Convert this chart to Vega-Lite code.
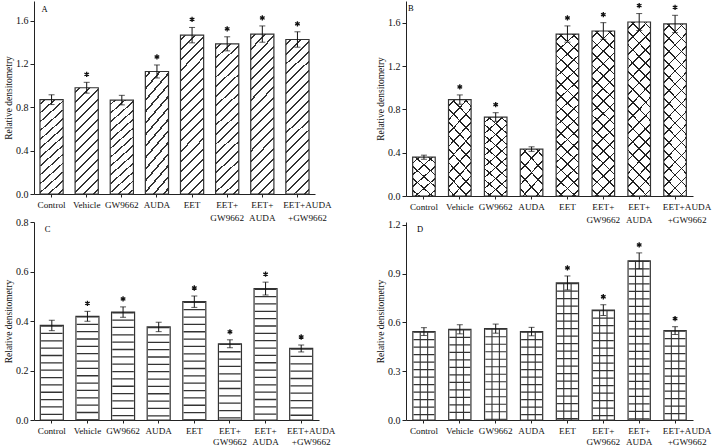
{
"$schema": "https://vega.github.io/schema/vega-lite/v6.json",
"padding": {"left": 3, "top": 0, "right": 5, "bottom": 2},
"background": "white",
"datasets": {
"A": [
{"cond":"Control","mean":0.87,"lo":0.825,"hi":0.915,"sig":false},
{"cond":"Vehicle","mean":0.98,"lo":0.93,"hi":1.03,"sig":true},
{"cond":"GW9662","mean":0.866,"lo":0.822,"hi":0.91,"sig":false},
{"cond":"AUDA","mean":1.13,"lo":1.07,"hi":1.19,"sig":true},
{"cond":"EET","mean":1.465,"lo":1.394,"hi":1.536,"sig":true},
{"cond":"EET+\nGW9662","mean":1.385,"lo":1.32,"hi":1.45,"sig":true},
{"cond":"EET+\nAUDA","mean":1.475,"lo":1.4,"hi":1.55,"sig":true},
{"cond":"EET+AUDA\n+GW9662","mean":1.425,"lo":1.354,"hi":1.496,"sig":true}
],
"B": [
{"cond":"Control","mean":0.358,"lo":0.339,"hi":0.377,"sig":false},
{"cond":"Vehicle","mean":0.89,"lo":0.847,"hi":0.933,"sig":true},
{"cond":"GW9662","mean":0.729,"lo":0.689,"hi":0.769,"sig":true},
{"cond":"AUDA","mean":0.433,"lo":0.412,"hi":0.454,"sig":false},
{"cond":"EET","mean":1.495,"lo":1.42,"hi":1.57,"sig":true},
{"cond":"EET+\nGW9662","mean":1.523,"lo":1.446,"hi":1.6,"sig":true},
{"cond":"EET+\nAUDA","mean":1.606,"lo":1.528,"hi":1.684,"sig":true},
{"cond":"EET+AUDA\n+GW9662","mean":1.588,"lo":1.508,"hi":1.668,"sig":true}
],
"C": [
{"cond":"Control","mean":0.382,"lo":0.361,"hi":0.403,"sig":false},
{"cond":"Vehicle","mean":0.419,"lo":0.399,"hi":0.439,"sig":true},
{"cond":"GW9662","mean":0.436,"lo":0.415,"hi":0.457,"sig":true},
{"cond":"AUDA","mean":0.376,"lo":0.357,"hi":0.395,"sig":false},
{"cond":"EET","mean":0.478,"lo":0.455,"hi":0.501,"sig":true},
{"cond":"EET+\nGW9662","mean":0.308,"lo":0.292,"hi":0.324,"sig":true},
{"cond":"EET+\nAUDA","mean":0.531,"lo":0.505,"hi":0.557,"sig":true},
{"cond":"EET+AUDA\n+GW9662","mean":0.289,"lo":0.275,"hi":0.303,"sig":true}
],
"D": [
{"cond":"Control","mean":0.544,"lo":0.52,"hi":0.568,"sig":false},
{"cond":"Vehicle","mean":0.558,"lo":0.53,"hi":0.586,"sig":false},
{"cond":"GW9662","mean":0.562,"lo":0.534,"hi":0.59,"sig":false},
{"cond":"AUDA","mean":0.544,"lo":0.518,"hi":0.57,"sig":false},
{"cond":"EET","mean":0.843,"lo":0.8,"hi":0.886,"sig":true},
{"cond":"EET+\nGW9662","mean":0.676,"lo":0.643,"hi":0.709,"sig":true},
{"cond":"EET+\nAUDA","mean":0.979,"lo":0.93,"hi":1.028,"sig":true},
{"cond":"EET+AUDA\n+GW9662","mean":0.55,"lo":0.526,"hi":0.574,"sig":true}
]
},
"concat": [
{
"width": 281, "height": 193,
"data": {"name": "A"},
"encoding": {"x": {"field":"cond","type":"nominal","title":null,"scale":{"domain":["Control","Vehicle","GW9662","AUDA","EET","EET+\nGW9662","EET+\nAUDA","EET+AUDA\n+GW9662"],"paddingInner":0.34,"paddingOuter":0.17},"axis":{"labelExpr":"split(datum.label,'\\n')","labelLineHeight":13.5,"labelOffset":{"condition":{"test":"indexof(datum.value,'AUDA\\n') >= 0","value":10},"value":0}}}},
"layer": [
{"transform":[{"filter":"datum.mean < 1.3"}],
 "mark":{"type":"bar","stroke":"#333","strokeWidth":1.2,"fill":{"gradient":"linear","x1":0,"y1":0,"x2":0.257,"y2":1.164,"stops":[
{"offset":0.031,"color":"#fff"},{"offset":0.031,"color":"#333"},{"offset":0.046,"color":"#333"},{"offset":0.046,"color":"#fff"},
{"offset":0.1079,"color":"#fff"},{"offset":0.1079,"color":"#333"},{"offset":0.1229,"color":"#333"},{"offset":0.1229,"color":"#fff"},
{"offset":0.1848,"color":"#fff"},{"offset":0.1848,"color":"#333"},{"offset":0.1998,"color":"#333"},{"offset":0.1998,"color":"#fff"},
{"offset":0.2617,"color":"#fff"},{"offset":0.2617,"color":"#333"},{"offset":0.2767,"color":"#333"},{"offset":0.2767,"color":"#fff"},
{"offset":0.3387,"color":"#fff"},{"offset":0.3387,"color":"#333"},{"offset":0.3537,"color":"#333"},{"offset":0.3537,"color":"#fff"},
{"offset":0.4156,"color":"#fff"},{"offset":0.4156,"color":"#333"},{"offset":0.4306,"color":"#333"},{"offset":0.4306,"color":"#fff"},
{"offset":0.4925,"color":"#fff"},{"offset":0.4925,"color":"#333"},{"offset":0.5075,"color":"#333"},{"offset":0.5075,"color":"#fff"},
{"offset":0.5694,"color":"#fff"},{"offset":0.5694,"color":"#333"},{"offset":0.5844,"color":"#333"},{"offset":0.5844,"color":"#fff"},
{"offset":0.6463,"color":"#fff"},{"offset":0.6463,"color":"#333"},{"offset":0.6613,"color":"#333"},{"offset":0.6613,"color":"#fff"},
{"offset":0.7233,"color":"#fff"},{"offset":0.7233,"color":"#333"},{"offset":0.7383,"color":"#333"},{"offset":0.7383,"color":"#fff"},
{"offset":0.8002,"color":"#fff"},{"offset":0.8002,"color":"#333"},{"offset":0.8152,"color":"#333"},{"offset":0.8152,"color":"#fff"},
{"offset":0.8771,"color":"#fff"},{"offset":0.8771,"color":"#333"},{"offset":0.8921,"color":"#333"},{"offset":0.8921,"color":"#fff"},
{"offset":0.954,"color":"#fff"},{"offset":0.954,"color":"#333"},{"offset":0.969,"color":"#333"},{"offset":0.969,"color":"#fff"}
]}},
 "encoding":{"y":{"field":"mean","type":"quantitative","title":"Relative densitometry","scale":{"domain":[0,1.78],"nice":false},"axis":{"values":[0,0.2,0.4,0.6,0.8,1,1.2,1.4,1.6],"labelExpr":"round(datum.value*10)%4==0 ? format(datum.value,'.1f') : ''","tickSize":{"condition":{"test":"round(datum.value*10)%4==0","value":4},"value":2}}}}},
{"transform":[{"filter":"datum.mean >= 1.3"}],
 "mark":{"type":"bar","stroke":"#333","strokeWidth":1.2,"fill":{"gradient":"linear","x1":0,"y1":0,"x2":0.1655,"y2":1.123,"stops":[
{"offset":0.0223,"color":"#fff"},{"offset":0.0223,"color":"#333"},{"offset":0.0333,"color":"#333"},{"offset":0.0333,"color":"#fff"},
{"offset":0.0778,"color":"#fff"},{"offset":0.0778,"color":"#333"},{"offset":0.0888,"color":"#333"},{"offset":0.0888,"color":"#fff"},
{"offset":0.1334,"color":"#fff"},{"offset":0.1334,"color":"#333"},{"offset":0.1444,"color":"#333"},{"offset":0.1444,"color":"#fff"},
{"offset":0.1889,"color":"#fff"},{"offset":0.1889,"color":"#333"},{"offset":0.1999,"color":"#333"},{"offset":0.1999,"color":"#fff"},
{"offset":0.2445,"color":"#fff"},{"offset":0.2445,"color":"#333"},{"offset":0.2555,"color":"#333"},{"offset":0.2555,"color":"#fff"},
{"offset":0.3001,"color":"#fff"},{"offset":0.3001,"color":"#333"},{"offset":0.3111,"color":"#333"},{"offset":0.3111,"color":"#fff"},
{"offset":0.3556,"color":"#fff"},{"offset":0.3556,"color":"#333"},{"offset":0.3666,"color":"#333"},{"offset":0.3666,"color":"#fff"},
{"offset":0.4112,"color":"#fff"},{"offset":0.4112,"color":"#333"},{"offset":0.4222,"color":"#333"},{"offset":0.4222,"color":"#fff"},
{"offset":0.4667,"color":"#fff"},{"offset":0.4667,"color":"#333"},{"offset":0.4777,"color":"#333"},{"offset":0.4777,"color":"#fff"},
{"offset":0.5223,"color":"#fff"},{"offset":0.5223,"color":"#333"},{"offset":0.5333,"color":"#333"},{"offset":0.5333,"color":"#fff"},
{"offset":0.5778,"color":"#fff"},{"offset":0.5778,"color":"#333"},{"offset":0.5888,"color":"#333"},{"offset":0.5888,"color":"#fff"},
{"offset":0.6334,"color":"#fff"},{"offset":0.6334,"color":"#333"},{"offset":0.6444,"color":"#333"},{"offset":0.6444,"color":"#fff"},
{"offset":0.6889,"color":"#fff"},{"offset":0.6889,"color":"#333"},{"offset":0.6999,"color":"#333"},{"offset":0.6999,"color":"#fff"},
{"offset":0.7445,"color":"#fff"},{"offset":0.7445,"color":"#333"},{"offset":0.7555,"color":"#333"},{"offset":0.7555,"color":"#fff"},
{"offset":0.8001,"color":"#fff"},{"offset":0.8001,"color":"#333"},{"offset":0.8111,"color":"#333"},{"offset":0.8111,"color":"#fff"},
{"offset":0.8556,"color":"#fff"},{"offset":0.8556,"color":"#333"},{"offset":0.8666,"color":"#333"},{"offset":0.8666,"color":"#fff"},
{"offset":0.9112,"color":"#fff"},{"offset":0.9112,"color":"#333"},{"offset":0.9222,"color":"#333"},{"offset":0.9222,"color":"#fff"},
{"offset":0.9667,"color":"#fff"},{"offset":0.9667,"color":"#333"},{"offset":0.9777,"color":"#333"},{"offset":0.9777,"color":"#fff"}
]}},
 "encoding":{"y":{"field":"mean","type":"quantitative","title":"Relative densitometry","scale":{"domain":[0,1.78],"nice":false}}}},
{"mark":{"type":"errorbar","ticks":{"size":6,"color":"#111"},"rule":{"color":"#111"}},
 "encoding":{"y":{"field":"lo","type":"quantitative","title":"Relative densitometry","scale":{"domain":[0,1.78],"nice":false}},"y2":{"field":"hi"}}},
{"transform":[{"filter":"datum.sig"}],
 "mark":{"type":"point","shape":"M0,-1L0,1M-0.87,-0.5L0.87,0.5M-0.87,0.5L0.87,-0.5","filled":false,"stroke":"#111","strokeWidth":1.3,"size":28,"opacity":1,"yOffset":-8},
 "encoding":{"y":{"field":"hi","type":"quantitative","title":"Relative densitometry","scale":{"domain":[0,1.78],"nice":false}}}},
{"transform":[{"filter":"datum.cond == 'Control'"}],
 "mark":{"type":"text","text":"A","font":"Liberation Serif","fontSize":8.5,"align":"left","baseline":"top","dx":-10,"dy":4},
 "encoding":{"y":{"datum":1.78,"type":"quantitative"},"color":{"value":"#000000"}}}
]
},
{
"width": 287, "height": 195,
"data": {"name": "B"},
"encoding": {"x": {"field":"cond","type":"nominal","title":null,"scale":{"domain":["Control","Vehicle","GW9662","AUDA","EET","EET+\nGW9662","EET+\nAUDA","EET+AUDA\n+GW9662"],"paddingInner":0.37,"paddingOuter":0.185},"axis":{"labelExpr":"split(datum.label,'\\n')","labelLineHeight":13.5,"labelOffset":{"condition":{"test":"indexof(datum.value,'AUDA\\n') >= 0","value":12},"value":0}}}},
"layer": [
{"transform":[{"filter":"datum.mean < 0.6"}],
 "mark":{"type":"bar","fill":{"gradient":"linear","x1":0,"y1":0,"x2":0.6255,"y2":1.196,"stops":[
{"offset":0.087,"color":"#fff"},{"offset":0.087,"color":"#222"},{"offset":0.113,"color":"#222"},{"offset":0.113,"color":"#fff"},
{"offset":0.287,"color":"#fff"},{"offset":0.287,"color":"#222"},{"offset":0.313,"color":"#222"},{"offset":0.313,"color":"#fff"},
{"offset":0.487,"color":"#fff"},{"offset":0.487,"color":"#222"},{"offset":0.513,"color":"#222"},{"offset":0.513,"color":"#fff"},
{"offset":0.687,"color":"#fff"},{"offset":0.687,"color":"#222"},{"offset":0.713,"color":"#222"},{"offset":0.713,"color":"#fff"},
{"offset":0.887,"color":"#fff"},{"offset":0.887,"color":"#222"},{"offset":0.913,"color":"#222"},{"offset":0.913,"color":"#fff"}
]}},
 "encoding":{"y":{"field":"mean","type":"quantitative","title":"Relative densitometry","scale":{"domain":[0,1.8],"nice":false},"axis":{"values":[0,0.2,0.4,0.6,0.8,1,1.2,1.4,1.6],"labelExpr":"round(datum.value*10)%4==0 ? format(datum.value,'.1f') : ''","tickSize":{"condition":{"test":"round(datum.value*10)%4==0","value":4},"value":2}}}}},
{"transform":[{"filter":"datum.mean < 0.6"}],
 "mark":{"type":"bar","stroke":"#333","strokeWidth":1.2,"fill":{"gradient":"linear","x1":0,"y1":1,"x2":0.6255,"y2":-0.196,"stops":[
{"offset":0.087,"color":"rgba(0,0,0,0)"},{"offset":0.087,"color":"#222"},{"offset":0.113,"color":"#222"},{"offset":0.113,"color":"rgba(0,0,0,0)"},
{"offset":0.287,"color":"rgba(0,0,0,0)"},{"offset":0.287,"color":"#222"},{"offset":0.313,"color":"#222"},{"offset":0.313,"color":"rgba(0,0,0,0)"},
{"offset":0.487,"color":"rgba(0,0,0,0)"},{"offset":0.487,"color":"#222"},{"offset":0.513,"color":"#222"},{"offset":0.513,"color":"rgba(0,0,0,0)"},
{"offset":0.687,"color":"rgba(0,0,0,0)"},{"offset":0.687,"color":"#222"},{"offset":0.713,"color":"#222"},{"offset":0.713,"color":"rgba(0,0,0,0)"},
{"offset":0.887,"color":"rgba(0,0,0,0)"},{"offset":0.887,"color":"#222"},{"offset":0.913,"color":"#222"},{"offset":0.913,"color":"rgba(0,0,0,0)"}
]}},
 "encoding":{"y":{"field":"mean","type":"quantitative","title":"Relative densitometry","scale":{"domain":[0,1.8],"nice":false}}}},
{"transform":[{"filter":"datum.mean >= 0.6 && datum.mean < 1.2"}],
 "mark":{"type":"bar","fill":{"gradient":"linear","x1":0,"y1":0,"x2":0.3014,"y2":1.1786,"stops":[
{"offset":0.0481,"color":"#fff"},{"offset":0.0481,"color":"#222"},{"offset":0.0631,"color":"#222"},{"offset":0.0631,"color":"#fff"},
{"offset":0.1592,"color":"#fff"},{"offset":0.1592,"color":"#222"},{"offset":0.1742,"color":"#222"},{"offset":0.1742,"color":"#fff"},
{"offset":0.2703,"color":"#fff"},{"offset":0.2703,"color":"#222"},{"offset":0.2853,"color":"#222"},{"offset":0.2853,"color":"#fff"},
{"offset":0.3814,"color":"#fff"},{"offset":0.3814,"color":"#222"},{"offset":0.3964,"color":"#222"},{"offset":0.3964,"color":"#fff"},
{"offset":0.4925,"color":"#fff"},{"offset":0.4925,"color":"#222"},{"offset":0.5075,"color":"#222"},{"offset":0.5075,"color":"#fff"},
{"offset":0.6036,"color":"#fff"},{"offset":0.6036,"color":"#222"},{"offset":0.6186,"color":"#222"},{"offset":0.6186,"color":"#fff"},
{"offset":0.7147,"color":"#fff"},{"offset":0.7147,"color":"#222"},{"offset":0.7297,"color":"#222"},{"offset":0.7297,"color":"#fff"},
{"offset":0.8258,"color":"#fff"},{"offset":0.8258,"color":"#222"},{"offset":0.8408,"color":"#222"},{"offset":0.8408,"color":"#fff"},
{"offset":0.9369,"color":"#fff"},{"offset":0.9369,"color":"#222"},{"offset":0.9519,"color":"#222"},{"offset":0.9519,"color":"#fff"}
]}},
 "encoding":{"y":{"field":"mean","type":"quantitative","title":"Relative densitometry","scale":{"domain":[0,1.8],"nice":false}}}},
{"transform":[{"filter":"datum.mean >= 0.6 && datum.mean < 1.2"}],
 "mark":{"type":"bar","stroke":"#333","strokeWidth":1.2,"fill":{"gradient":"linear","x1":0,"y1":1,"x2":0.3014,"y2":-0.1786,"stops":[
{"offset":0.0481,"color":"rgba(0,0,0,0)"},{"offset":0.0481,"color":"#222"},{"offset":0.0631,"color":"#222"},{"offset":0.0631,"color":"rgba(0,0,0,0)"},
{"offset":0.1592,"color":"rgba(0,0,0,0)"},{"offset":0.1592,"color":"#222"},{"offset":0.1742,"color":"#222"},{"offset":0.1742,"color":"rgba(0,0,0,0)"},
{"offset":0.2703,"color":"rgba(0,0,0,0)"},{"offset":0.2703,"color":"#222"},{"offset":0.2853,"color":"#222"},{"offset":0.2853,"color":"rgba(0,0,0,0)"},
{"offset":0.3814,"color":"rgba(0,0,0,0)"},{"offset":0.3814,"color":"#222"},{"offset":0.3964,"color":"#222"},{"offset":0.3964,"color":"rgba(0,0,0,0)"},
{"offset":0.4925,"color":"rgba(0,0,0,0)"},{"offset":0.4925,"color":"#222"},{"offset":0.5075,"color":"#222"},{"offset":0.5075,"color":"rgba(0,0,0,0)"},
{"offset":0.6036,"color":"rgba(0,0,0,0)"},{"offset":0.6036,"color":"#222"},{"offset":0.6186,"color":"#222"},{"offset":0.6186,"color":"rgba(0,0,0,0)"},
{"offset":0.7147,"color":"rgba(0,0,0,0)"},{"offset":0.7147,"color":"#222"},{"offset":0.7297,"color":"#222"},{"offset":0.7297,"color":"rgba(0,0,0,0)"},
{"offset":0.8258,"color":"rgba(0,0,0,0)"},{"offset":0.8258,"color":"#222"},{"offset":0.8408,"color":"#222"},{"offset":0.8408,"color":"rgba(0,0,0,0)"},
{"offset":0.9369,"color":"rgba(0,0,0,0)"},{"offset":0.9369,"color":"#222"},{"offset":0.9519,"color":"#222"},{"offset":0.9519,"color":"rgba(0,0,0,0)"}
]}},
 "encoding":{"y":{"field":"mean","type":"quantitative","title":"Relative densitometry","scale":{"domain":[0,1.8],"nice":false}}}},
{"transform":[{"filter":"datum.mean >= 1.2"}],
 "mark":{"type":"bar","fill":{"gradient":"linear","x1":0,"y1":0,"x2":0.1492,"y2":1.114,"stops":[
{"offset":0.0288,"color":"#fff"},{"offset":0.0288,"color":"#222"},{"offset":0.0378,"color":"#222"},{"offset":0.0378,"color":"#fff"},
{"offset":0.0955,"color":"#fff"},{"offset":0.0955,"color":"#222"},{"offset":0.1045,"color":"#222"},{"offset":0.1045,"color":"#fff"},
{"offset":0.1622,"color":"#fff"},{"offset":0.1622,"color":"#222"},{"offset":0.1712,"color":"#222"},{"offset":0.1712,"color":"#fff"},
{"offset":0.2288,"color":"#fff"},{"offset":0.2288,"color":"#222"},{"offset":0.2378,"color":"#222"},{"offset":0.2378,"color":"#fff"},
{"offset":0.2955,"color":"#fff"},{"offset":0.2955,"color":"#222"},{"offset":0.3045,"color":"#222"},{"offset":0.3045,"color":"#fff"},
{"offset":0.3622,"color":"#fff"},{"offset":0.3622,"color":"#222"},{"offset":0.3712,"color":"#222"},{"offset":0.3712,"color":"#fff"},
{"offset":0.4288,"color":"#fff"},{"offset":0.4288,"color":"#222"},{"offset":0.4378,"color":"#222"},{"offset":0.4378,"color":"#fff"},
{"offset":0.4955,"color":"#fff"},{"offset":0.4955,"color":"#222"},{"offset":0.5045,"color":"#222"},{"offset":0.5045,"color":"#fff"},
{"offset":0.5622,"color":"#fff"},{"offset":0.5622,"color":"#222"},{"offset":0.5712,"color":"#222"},{"offset":0.5712,"color":"#fff"},
{"offset":0.6288,"color":"#fff"},{"offset":0.6288,"color":"#222"},{"offset":0.6378,"color":"#222"},{"offset":0.6378,"color":"#fff"},
{"offset":0.6955,"color":"#fff"},{"offset":0.6955,"color":"#222"},{"offset":0.7045,"color":"#222"},{"offset":0.7045,"color":"#fff"},
{"offset":0.7622,"color":"#fff"},{"offset":0.7622,"color":"#222"},{"offset":0.7712,"color":"#222"},{"offset":0.7712,"color":"#fff"},
{"offset":0.8288,"color":"#fff"},{"offset":0.8288,"color":"#222"},{"offset":0.8378,"color":"#222"},{"offset":0.8378,"color":"#fff"},
{"offset":0.8955,"color":"#fff"},{"offset":0.8955,"color":"#222"},{"offset":0.9045,"color":"#222"},{"offset":0.9045,"color":"#fff"},
{"offset":0.9622,"color":"#fff"},{"offset":0.9622,"color":"#222"},{"offset":0.9712,"color":"#222"},{"offset":0.9712,"color":"#fff"}
]}},
 "encoding":{"y":{"field":"mean","type":"quantitative","title":"Relative densitometry","scale":{"domain":[0,1.8],"nice":false}}}},
{"transform":[{"filter":"datum.mean >= 1.2"}],
 "mark":{"type":"bar","stroke":"#333","strokeWidth":1.2,"fill":{"gradient":"linear","x1":0,"y1":1,"x2":0.1492,"y2":-0.114,"stops":[
{"offset":0.0288,"color":"rgba(0,0,0,0)"},{"offset":0.0288,"color":"#222"},{"offset":0.0378,"color":"#222"},{"offset":0.0378,"color":"rgba(0,0,0,0)"},
{"offset":0.0955,"color":"rgba(0,0,0,0)"},{"offset":0.0955,"color":"#222"},{"offset":0.1045,"color":"#222"},{"offset":0.1045,"color":"rgba(0,0,0,0)"},
{"offset":0.1622,"color":"rgba(0,0,0,0)"},{"offset":0.1622,"color":"#222"},{"offset":0.1712,"color":"#222"},{"offset":0.1712,"color":"rgba(0,0,0,0)"},
{"offset":0.2288,"color":"rgba(0,0,0,0)"},{"offset":0.2288,"color":"#222"},{"offset":0.2378,"color":"#222"},{"offset":0.2378,"color":"rgba(0,0,0,0)"},
{"offset":0.2955,"color":"rgba(0,0,0,0)"},{"offset":0.2955,"color":"#222"},{"offset":0.3045,"color":"#222"},{"offset":0.3045,"color":"rgba(0,0,0,0)"},
{"offset":0.3622,"color":"rgba(0,0,0,0)"},{"offset":0.3622,"color":"#222"},{"offset":0.3712,"color":"#222"},{"offset":0.3712,"color":"rgba(0,0,0,0)"},
{"offset":0.4288,"color":"rgba(0,0,0,0)"},{"offset":0.4288,"color":"#222"},{"offset":0.4378,"color":"#222"},{"offset":0.4378,"color":"rgba(0,0,0,0)"},
{"offset":0.4955,"color":"rgba(0,0,0,0)"},{"offset":0.4955,"color":"#222"},{"offset":0.5045,"color":"#222"},{"offset":0.5045,"color":"rgba(0,0,0,0)"},
{"offset":0.5622,"color":"rgba(0,0,0,0)"},{"offset":0.5622,"color":"#222"},{"offset":0.5712,"color":"#222"},{"offset":0.5712,"color":"rgba(0,0,0,0)"},
{"offset":0.6288,"color":"rgba(0,0,0,0)"},{"offset":0.6288,"color":"#222"},{"offset":0.6378,"color":"#222"},{"offset":0.6378,"color":"rgba(0,0,0,0)"},
{"offset":0.6955,"color":"rgba(0,0,0,0)"},{"offset":0.6955,"color":"#222"},{"offset":0.7045,"color":"#222"},{"offset":0.7045,"color":"rgba(0,0,0,0)"},
{"offset":0.7622,"color":"rgba(0,0,0,0)"},{"offset":0.7622,"color":"#222"},{"offset":0.7712,"color":"#222"},{"offset":0.7712,"color":"rgba(0,0,0,0)"},
{"offset":0.8288,"color":"rgba(0,0,0,0)"},{"offset":0.8288,"color":"#222"},{"offset":0.8378,"color":"#222"},{"offset":0.8378,"color":"rgba(0,0,0,0)"},
{"offset":0.8955,"color":"rgba(0,0,0,0)"},{"offset":0.8955,"color":"#222"},{"offset":0.9045,"color":"#222"},{"offset":0.9045,"color":"rgba(0,0,0,0)"},
{"offset":0.9622,"color":"rgba(0,0,0,0)"},{"offset":0.9622,"color":"#222"},{"offset":0.9712,"color":"#222"},{"offset":0.9712,"color":"rgba(0,0,0,0)"}
]}},
 "encoding":{"y":{"field":"mean","type":"quantitative","title":"Relative densitometry","scale":{"domain":[0,1.8],"nice":false}}}},
{"mark":{"type":"errorbar","ticks":{"size":6,"color":"#111"},"rule":{"color":"#111"}},
 "encoding":{"y":{"field":"lo","type":"quantitative","title":"Relative densitometry","scale":{"domain":[0,1.8],"nice":false}},"y2":{"field":"hi"}}},
{"transform":[{"filter":"datum.sig"}],
 "mark":{"type":"point","shape":"M0,-1L0,1M-0.87,-0.5L0.87,0.5M-0.87,0.5L0.87,-0.5","filled":false,"stroke":"#111","strokeWidth":1.3,"size":28,"opacity":1,"yOffset":-8},
 "encoding":{"y":{"field":"hi","type":"quantitative","title":"Relative densitometry","scale":{"domain":[0,1.8],"nice":false}}}},
{"transform":[{"filter":"datum.cond == 'Control'"}],
 "mark":{"type":"text","text":"B","font":"Liberation Serif","fontSize":8.5,"align":"left","baseline":"top","dx":-16,"dy":3},
 "encoding":{"y":{"datum":1.8,"type":"quantitative"},"color":{"value":"#000000"}}}
]
},
{
"width": 285, "height": 198,
"data": {"name": "C"},
"encoding": {"x": {"field":"cond","type":"nominal","title":null,"scale":{"domain":["Control","Vehicle","GW9662","AUDA","EET","EET+\nGW9662","EET+\nAUDA","EET+AUDA\n+GW9662"],"paddingInner":0.354,"paddingOuter":0.177},"axis":{"labelExpr":"split(datum.label,'\\n')","labelLineHeight":11,"labelOffset":{"condition":{"test":"indexof(datum.value,'AUDA\\n') >= 0","value":10},"value":0}}}},
"layer": [
{"mark":{"type":"bar","fill":"white","stroke":"#333","strokeWidth":1.2},
 "encoding":{"y":{"field":"mean","type":"quantitative","title":"Relative densitometry","scale":{"domain":[0,0.8],"nice":false},"axis":{"values":[0,0.1,0.2,0.3,0.4,0.5,0.6,0.7,0.8],"labelExpr":"round(datum.value*10)%2==0 ? format(datum.value,'.1f') : ''","tickSize":{"condition":{"test":"round(datum.value*10)%2==0","value":4},"value":2}}}}},
{"mark":{"type":"rule","strokeWidth":21.5,"strokeDash":[1.3,6.05],"color":"#333","strokeCap":"butt"},
 "encoding":{"y":{"field":"mean","type":"quantitative","title":"Relative densitometry","scale":{"domain":[0,0.8],"nice":false}},"y2":{"datum":0}}},
{"mark":{"type":"errorbar","ticks":{"size":6,"color":"#111"},"rule":{"color":"#111"}},
 "encoding":{"y":{"field":"lo","type":"quantitative","title":"Relative densitometry","scale":{"domain":[0,0.8],"nice":false}},"y2":{"field":"hi"}}},
{"transform":[{"filter":"datum.sig"}],
 "mark":{"type":"point","shape":"M0,-1L0,1M-0.87,-0.5L0.87,0.5M-0.87,0.5L0.87,-0.5","filled":false,"stroke":"#111","strokeWidth":1.3,"size":28,"opacity":1,"yOffset":-8},
 "encoding":{"y":{"field":"hi","type":"quantitative","title":"Relative densitometry","scale":{"domain":[0,0.8],"nice":false}}}},
{"transform":[{"filter":"datum.cond == 'Control'"}],
 "mark":{"type":"text","text":"C","font":"Liberation Serif","fontSize":8.5,"align":"left","baseline":"top","dx":-7,"dy":3},
 "encoding":{"y":{"datum":0.8,"type":"quantitative"},"color":{"value":"#000000"}}}
]
},
{
"width": 287, "height": 198,
"data": {"name": "D"},
"encoding": {"x": {"field":"cond","type":"nominal","title":null,"scale":{"domain":["Control","Vehicle","GW9662","AUDA","EET","EET+\nGW9662","EET+\nAUDA","EET+AUDA\n+GW9662"],"paddingInner":0.38,"paddingOuter":0.19},"axis":{"labelExpr":"split(datum.label,'\\n')","labelLineHeight":11,"labelOffset":{"condition":{"test":"indexof(datum.value,'AUDA\\n') >= 0","value":12},"value":0}}}},
"layer": [
{"mark":{"type":"bar","fill":"white","stroke":"#333","strokeWidth":1.2},
 "encoding":{"y":{"field":"mean","type":"quantitative","title":"Relative densitometry","scale":{"domain":[0,1.218],"nice":false},"axis":{"values":[0,0.15,0.3,0.45,0.6,0.75,0.9,1.05,1.2],"labelExpr":"round(datum.value*100)%30==0 ? format(datum.value,'.1f') : ''","tickSize":{"condition":{"test":"round(datum.value*100)%30==0","value":4},"value":2}}}}},
{"mark":{"type":"rule","strokeWidth":20.8,"strokeDash":[1.2,6.3],"color":"#333","strokeCap":"butt"},
 "encoding":{"y":{"field":"mean","type":"quantitative","title":"Relative densitometry","scale":{"domain":[0,1.218],"nice":false}},"y2":{"datum":0}}},
{"mark":{"type":"rule","strokeWidth":1.1,"color":"#333","xOffset":-3.7},
 "encoding":{"y":{"field":"mean","type":"quantitative","title":"Relative densitometry","scale":{"domain":[0,1.218],"nice":false}},"y2":{"datum":0}}},
{"mark":{"type":"rule","strokeWidth":1.1,"color":"#333","xOffset":3.7},
 "encoding":{"y":{"field":"mean","type":"quantitative","title":"Relative densitometry","scale":{"domain":[0,1.218],"nice":false}},"y2":{"datum":0}}},
{"mark":{"type":"errorbar","ticks":{"size":6,"color":"#111"},"rule":{"color":"#111"}},
 "encoding":{"y":{"field":"lo","type":"quantitative","title":"Relative densitometry","scale":{"domain":[0,1.218],"nice":false}},"y2":{"field":"hi"}}},
{"transform":[{"filter":"datum.sig"}],
 "mark":{"type":"point","shape":"M0,-1L0,1M-0.87,-0.5L0.87,0.5M-0.87,0.5L0.87,-0.5","filled":false,"stroke":"#111","strokeWidth":1.3,"size":28,"opacity":1,"yOffset":-8},
 "encoding":{"y":{"field":"hi","type":"quantitative","title":"Relative densitometry","scale":{"domain":[0,1.218],"nice":false}}}},
{"transform":[{"filter":"datum.cond == 'Control'"}],
 "mark":{"type":"text","text":"D","font":"Liberation Serif","fontSize":8.5,"align":"left","baseline":"top","dx":-7,"dy":0},
 "encoding":{"y":{"datum":1.2,"type":"quantitative"},"color":{"value":"#000000"}}}
]
}
],
"columns": 2,
"bounds": "flush",
"spacing": {"row": 26, "column": 87},
"config": {
"view": {"stroke": null},
"font": "Liberation Serif",
"axis": {"labelFont":"Liberation Serif","titleFont":"Liberation Serif","labelColor":"#111","titleColor":"#111","domainColor":"#222","tickColor":"#222","domainWidth":1,"tickWidth":1,"grid":false,"titleFontWeight":"normal"},
"axisX": {"labelAngle":0,"labelFontSize":9.2,"tickSize":3,"labelPadding":3,"labelOverlap":false},
"axisY": {"labelFontSize":10,"titleFontSize":9.5,"labelPadding":2,"titlePadding":2}
}
}
